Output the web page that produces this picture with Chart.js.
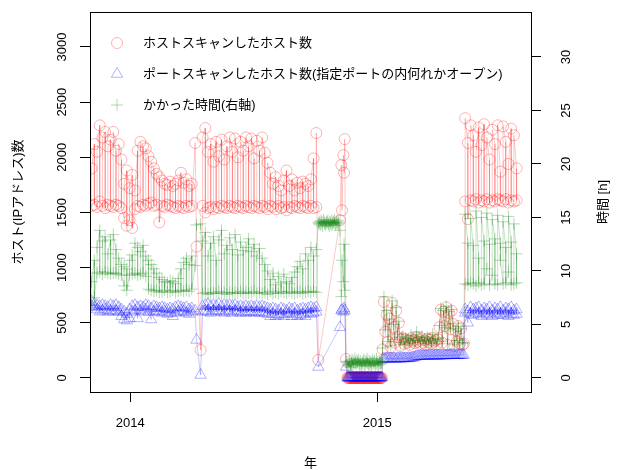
<!DOCTYPE html>
<html>
<head>
<meta charset="utf-8">
<script src="https://cdn.jsdelivr.net/npm/chart.js@4.4.1/dist/chart.umd.min.js"></script>
<style>
  html, body { margin: 0; padding: 0; background: #fff; }
  canvas { display: block; }
</style>
</head>
<body>
<canvas id="scanChart" width="618" height="470"></canvas>
<script>
// x = days since 2014-01-01 (2 scans on the same day are listed at the same x)
const days = [
  // 2013-11 .. 2014-04
  -57,-57,-53,-53,-49,-49,-45,-45,-41,-41,-37,-37,-33,-33,-29,-29,-25,-25,-21,-21,
  -17,-17,-13,-13,-9,-9,-5,-5,-1,-1,3,3,7,7,11,11,15,15,19,19,
  23,23,27,27,31,31,35,35,39,39,43,43,47,47,51,51,55,55,59,59,
  63,63,67,67,71,71,75,75,79,79,83,83,87,87,91,91,
  96,98,104,
  // 2014-04 .. 2014-10
  107,107,111,111,115,115,119,119,123,123,127,127,131,131,135,135,139,139,143,143,
  147,147,151,151,155,155,159,159,163,163,167,167,171,171,175,175,179,179,183,183,
  187,187,191,191,195,195,199,199,203,203,207,207,211,211,215,215,219,219,223,223,
  227,227,231,231,235,235,239,239,243,243,247,247,251,251,255,255,259,259,263,263,
  267,267,271,271,275,275,
  278,
  279,280,281,282,283,284,285,286,287,288,289,290,291,292,293,294,295,296,297,298,
  299,300,301,302,303,304,305,306,307,308,
  310,312,313,315,316,317,319,
  // 2014-11 .. 2015-01
  321,322,323,324,325,326,327,328,329,330,331,332,333,334,335,336,337,338,339,340,
  341,342,343,344,345,346,347,348,349,350,351,352,353,354,355,356,357,358,359,360,
  361,362,363,364,365,366,367,368,369,370,371,372,
  // 2015-01 .. 2015-05
  373,375,377,379,381,383,385,387,389,391,393,395,397,399,401,
  403,405,407,409,411,413,415,417,419,421,423,425,427,429,431,433,435,437,439,441,
  443,445,447,449,451,453,455,
  457,459,461,463,465,467,469,471,473,475,477,479,481,483,485,487,489,491,493,
  // 2015-05 .. 2015-07
  495,495,499,499,503,503,507,507,511,511,515,515,519,519,523,523,527,527,531,531,
  535,535,539,539,543,543,547,547,551,551,555,555,559,559,563,563,567,567,571,571
];

const hosts = [
  1560,1900,2120,1570,1550,2050,2290,1600,1560,2180,2230,1540,1570,2100,2160,1560,1550,2230,2060,1570,
  1560,2120,1980,1540,1450,1760,1880,1380,1430,1720,1840,1360,1530,1700,2060,1560,1550,2140,2100,1570,
  1560,2080,2010,1580,1590,1960,1900,1560,1570,1850,1820,1410,1560,1790,1760,1550,1570,1750,1780,1560,
  1550,1740,1760,1540,1560,1790,1860,1550,1540,1770,1800,1560,1550,1740,1760,1560,
  2130,1190,254,
  1560,2180,2265,1500,1540,2050,2120,1550,1530,1960,2140,1550,1540,2010,2160,1560,1550,1980,2100,1540,
  1560,2180,2050,1550,1540,2170,2000,1560,1550,2140,2060,1540,1560,2180,2100,1550,1540,2170,1990,1560,
  1550,2150,2060,1540,1560,2180,2040,1550,1530,1950,1860,1560,1550,1760,1820,1530,1560,1740,1700,1540,
  1550,1790,1880,1520,1550,1740,1800,1540,1560,1700,1770,1550,1540,1720,1780,1560,1550,1760,1740,1540,
  1560,1800,1990,1540,1550,2220,
  163,
  null,null,null,null,null,null,null,null,null,null,null,null,null,null,null,null,null,null,null,null,
  null,null,null,null,null,null,null,null,null,null,
  1430,1930,1520,2020,1860,2165,172,
  2,0,3,0,1,4,0,2,0,3,0,1,0,2,0,3,0,1,2,0,
  3,0,1,0,2,4,0,1,0,3,0,2,0,1,3,0,2,0,1,0,
  3,0,2,1,0,4,0,2,0,1,3,0,
  260,690,420,570,330,540,280,680,460,320,610,370,500,290,350,
  360,310,350,320,340,300,360,330,345,315,370,330,350,310,360,320,340,300,355,325,
  345,310,365,330,340,305,350,
  460,620,320,600,470,640,300,590,440,610,490,290,430,330,470,310,450,300,310,
  1600,2355,2130,1440,1610,2290,2200,1600,1620,2050,2270,1590,1610,2110,2300,1600,1620,2180,1980,1590,
  1610,2250,2120,1600,1620,2290,1870,1610,1600,2280,2140,1620,1590,1940,2260,1610,1600,2200,1900,1610
];

const openHosts = [
  650,690,640,670,620,660,600,650,610,660,620,650,600,640,610,660,600,650,610,660,
  600,640,560,620,530,600,520,580,540,620,600,650,610,660,540,640,610,650,600,640,
  620,660,600,650,530,630,600,650,610,640,600,630,590,640,600,630,580,620,590,630,
  560,620,590,640,600,650,610,640,600,630,590,640,580,620,600,630,
  610,345,27,
  600,650,660,610,670,600,650,590,660,610,650,600,670,610,650,600,660,590,650,610,
  660,600,650,590,660,610,640,600,650,590,640,600,650,590,640,600,650,600,640,590,
  650,600,640,590,650,600,640,590,630,580,620,560,630,580,620,560,610,570,630,580,
  620,560,610,580,630,590,620,560,630,580,610,560,620,570,630,580,620,560,630,590,
  640,580,630,590,640,600,
  100,
  null,null,null,null,null,null,null,null,null,null,null,null,null,null,null,null,null,null,null,null,
  null,null,null,null,null,null,null,null,null,null,
  460,610,620,600,630,610,100,
  4,2,5,3,1,6,3,4,2,5,3,2,4,6,2,4,3,5,1,4,
  5,2,4,6,3,2,4,3,5,4,2,5,3,1,4,6,3,4,2,5,
  4,2,5,3,6,2,4,3,5,2,4,3,
  170,175,172,178,175,173,176,174,177,175,172,178,176,174,177,
  178,176,179,177,180,178,181,183,186,190,195,198,197,199,198,200,199,201,200,202,
  201,203,202,200,203,201,202,
  203,202,204,203,205,204,206,205,207,206,208,207,205,208,206,209,207,208,207,
  590,620,500,600,640,580,620,570,630,590,640,580,610,560,630,590,620,570,640,580,
  610,560,630,590,620,570,640,580,610,570,630,590,620,560,640,580,610,570,620,580
];

const hours = [
  6.8,9.0,11.0,7.5,9.8,12.2,13.8,9.9,9.7,12.8,13.2,9.9,9.8,11.6,12.9,9.7,9.8,13.4,12.0,9.8,
  9.7,11.2,10.6,9.6,8.6,10.4,10.2,8.2,9.6,11.0,11.5,9.7,9.8,12.6,12.2,9.6,9.7,11.8,12.4,9.8,
  9.5,11.4,11.0,8.3,8.2,10.6,10.2,8.1,8.2,9.8,9.4,8.0,8.1,9.2,9.0,8.2,8.0,8.9,9.1,8.1,
  8.2,9.0,8.8,8.0,8.1,9.3,10.2,8.2,8.1,10.8,11.2,8.2,8.1,10.6,11.4,8.3,
  10.5,14.3,14.4,
  7.9,12.8,13.6,8.0,7.8,11.4,12.6,7.9,8.0,13.2,11.0,7.9,8.1,12.9,13.8,7.9,8.0,11.6,12.4,7.8,
  8.0,13.1,12.0,7.9,8.0,13.4,11.5,7.9,8.1,12.7,11.9,7.9,8.0,12.2,13.0,7.9,8.0,11.8,12.5,8.1,
  7.9,11.4,12.1,8.0,7.9,11.2,10.6,8.0,7.8,10.0,9.2,8.1,7.9,9.8,8.7,8.0,7.9,9.5,8.9,8.1,
  8.0,9.7,9.0,7.9,8.1,8.8,9.4,8.0,7.9,9.9,10.4,8.0,8.1,10.9,10.2,7.9,8.0,11.6,11.0,8.1,
  8.0,12.2,11.4,8.1,8.0,12.0,
  14.5,
  14.4,14.6,14.3,14.7,14.5,14.2,14.6,14.8,14.4,14.5,14.3,14.6,14.5,14.7,14.4,14.2,14.6,14.5,14.3,14.7,
  14.4,14.6,14.5,14.8,14.3,14.5,14.6,14.4,14.7,14.5,
  13.8,7.6,11.0,9.0,12.5,8.2,1.5,
  1.2,1.5,1.1,1.6,1.3,1.0,1.4,1.7,1.2,1.5,1.3,1.8,1.4,1.6,1.3,1.5,1.7,1.4,1.2,1.6,
  1.3,1.1,1.5,1.4,1.7,1.2,1.6,1.3,1.5,1.8,1.4,1.2,1.6,1.3,1.5,1.1,1.4,1.7,1.3,1.5,
  1.6,1.2,1.4,1.8,1.3,1.5,1.2,1.6,1.4,1.3,1.5,1.4,
  2.8,7.6,4.5,6.3,3.4,5.5,3.0,7.2,5.0,3.6,6.6,4.1,5.3,3.1,3.8,
  3.9,3.3,3.7,3.4,3.6,3.2,4.0,3.5,3.7,3.3,4.3,3.5,3.8,3.4,3.9,3.5,3.6,3.2,3.8,3.4,
  3.7,3.3,4.1,3.5,3.6,3.2,3.7,
  4.9,6.5,3.4,6.3,4.7,6.7,3.2,6.2,4.6,6.4,5.1,3.1,4.4,3.5,4.8,3.3,4.6,3.2,3.3,
  8.8,15.3,12.6,8.7,8.9,14.9,12.4,8.8,8.6,15.6,11.2,8.9,8.7,15.0,12.8,8.8,10.2,15.4,12.5,8.7,
  9.6,14.8,13.0,8.8,8.7,15.2,12.6,11.0,8.8,14.6,12.2,8.9,9.9,15.1,12.7,8.7,8.8,14.4,11.6,8.9
];

const xTickDays = [0, 365];
const xTickLabels = ['2014', '2015'];
const leftTicks = [0, 500, 1000, 1500, 2000, 2500, 3000];
const rightTicks = [0, 5, 10, 15, 20, 25, 30];
const seriesNames = [
  'ホストスキャンしたホスト数',
  'ポートスキャンしたホスト数(指定ポートの内何れかオープン)',
  'かかった時間(右軸)'
];

const FONT = "13px 'Liberation Sans', 'Noto Sans CJK JP', sans-serif";
const RED = 'rgba(255, 0, 0, 0.3)';
const BLUE = 'rgba(0, 0, 255, 0.3)';
const GREEN = 'rgba(0, 128, 0, 0.3)';
const RED_LINE = 'rgba(255, 0, 0, 0.22)';
const BLUE_LINE = 'rgba(0, 0, 255, 0.22)';
const GREEN_LINE = 'rgba(0, 128, 0, 0.22)';

const toPoints = ys => days.map((d, i) => ({ x: d, y: ys[i] }));

// 縦書きテキスト
const vText = (ctx, txt, x, y) => {
  ctx.save();
  ctx.translate(x, y);
  ctx.rotate(-Math.PI / 2);
  ctx.fillText(txt, 0, 0);
  ctx.restore();
};

const decorations = {
  id: 'decorations',
  afterDraw(chart) {
    const { ctx, chartArea: a, scales } = chart;
    ctx.save();
    ctx.strokeStyle = '#000';
    ctx.lineWidth = 1;
    ctx.strokeRect(a.left + 0.5, a.top + 0.5, a.right - a.left, a.bottom - a.top);

    ctx.fillStyle = '#000';
    ctx.font = FONT;
    ctx.textAlign = 'center';
    ctx.textBaseline = 'middle';
    xTickDays.forEach((d, i) => ctx.fillText(xTickLabels[i], scales.x.getPixelForValue(d), 423));
    leftTicks.forEach(v => vText(ctx, String(v), 62, scales.y.getPixelForValue(v)));
    rightTicks.forEach(v => vText(ctx, String(v), 566, scales.y2.getPixelForValue(v)));

    const midY = (a.top + a.bottom) / 2;
    vText(ctx, 'ホスト(IPアドレス)数', 18, midY);
    vText(ctx, '時間 [h]', 603, midY);
    ctx.fillText('年', (a.left + a.right) / 2, 463);

    // 凡例
    const mx = 117;
    const rows = [43, 74, 105];
    ctx.lineWidth = 1;
    ctx.strokeStyle = RED;
    ctx.beginPath();
    ctx.arc(mx, rows[0], 5.5, 0, Math.PI * 2);
    ctx.stroke();
    ctx.strokeStyle = BLUE;
    const r = 6.5;
    ctx.beginPath();
    ctx.moveTo(mx, rows[1] - r);
    ctx.lineTo(mx + r * 0.866, rows[1] + r / 2);
    ctx.lineTo(mx - r * 0.866, rows[1] + r / 2);
    ctx.closePath();
    ctx.stroke();
    ctx.strokeStyle = GREEN;
    ctx.beginPath();
    ctx.moveTo(mx - 6, rows[2]);
    ctx.lineTo(mx + 6, rows[2]);
    ctx.moveTo(mx, rows[2] - 6);
    ctx.lineTo(mx, rows[2] + 6);
    ctx.stroke();

    ctx.fillStyle = '#000';
    ctx.textAlign = 'left';
    seriesNames.forEach((name, i) => ctx.fillText(name, 143, rows[i]));
    ctx.restore();
  }
};

const tickGrid = {
  drawOnChartArea: false,
  drawTicks: true,
  tickLength: 10,
  color: '#000',
  lineWidth: 1
};

new Chart(document.getElementById('scanChart'), {
  type: 'line',
  data: {
    datasets: [
      {
        label: seriesNames[0],
        data: toPoints(hosts),
        yAxisID: 'y',
        borderColor: RED_LINE,
        borderWidth: 1,
        pointStyle: 'circle',
        pointRadius: 5.5,
        pointBorderColor: RED,
        pointBackgroundColor: 'rgba(0,0,0,0)',
        pointBorderWidth: 1,
        spanGaps: true,
        fill: false,
        tension: 0,
        order: 3
      },
      {
        label: seriesNames[1],
        data: toPoints(openHosts),
        yAxisID: 'y',
        borderColor: BLUE_LINE,
        borderWidth: 1,
        pointStyle: 'triangle',
        pointRadius: 6.5,
        pointBorderColor: BLUE,
        pointBackgroundColor: 'rgba(0,0,0,0)',
        pointBorderWidth: 1,
        spanGaps: true,
        fill: false,
        tension: 0,
        order: 2
      },
      {
        label: seriesNames[2],
        data: toPoints(hours),
        yAxisID: 'y2',
        borderColor: GREEN_LINE,
        borderWidth: 1,
        pointStyle: 'cross',
        pointRadius: 6,
        pointBorderColor: GREEN,
        pointBorderWidth: 1,
        fill: false,
        tension: 0,
        order: 1
      }
    ]
  },
  options: {
    responsive: false,
    animation: false,
    devicePixelRatio: 1,
    events: [],
    layout: { padding: { top: 12, left: 0, right: 0, bottom: 0 }, autoPadding: false },
    plugins: {
      legend: { display: false },
      tooltip: { enabled: false }
    },
    scales: {
      x: {
        type: 'linear',
        min: -59.4,
        max: 592.3,
        afterBuildTicks: s => { s.ticks = xTickDays.map(v => ({ value: v })); },
        afterFit: s => { s.height = 78; },
        grid: tickGrid,
        border: { display: false },
        ticks: { color: 'rgba(0,0,0,0)' }
      },
      y: {
        type: 'linear',
        position: 'left',
        min: -126.9,
        max: 3317,
        afterBuildTicks: s => { s.ticks = leftTicks.map(v => ({ value: v })); },
        afterFit: s => { s.width = 90; },
        grid: tickGrid,
        border: { display: false },
        ticks: { color: 'rgba(0,0,0,0)' }
      },
      y2: {
        type: 'linear',
        position: 'right',
        min: -1.31,
        max: 34.2,
        afterBuildTicks: s => { s.ticks = rightTicks.map(v => ({ value: v })); },
        afterFit: s => { s.width = 87; },
        grid: tickGrid,
        border: { display: false },
        ticks: { color: 'rgba(0,0,0,0)' }
      }
    }
  },
  plugins: [decorations]
});
</script>
</body>
</html>
